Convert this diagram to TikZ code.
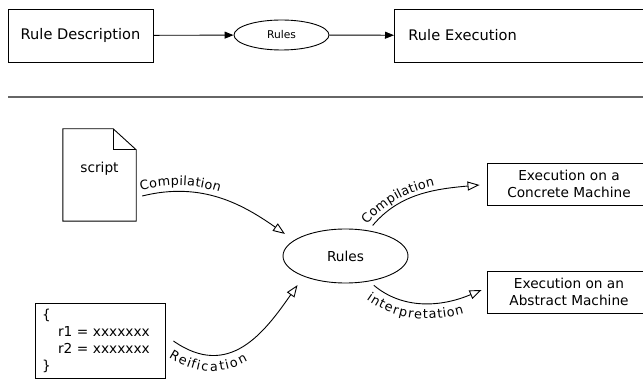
\documentclass[tikz,border=0pt]{standalone}
\usepackage{fontspec}
\setmainfont{DejaVu Sans}
\usetikzlibrary{shapes.geometric, arrows.meta, decorations.text}
\newcommand\lblfont{\fontsize{13.7}{17}\selectfont}
\newcommand\curvefont{\fontsize{12.8}{15}\selectfont}
\begin{document}
\begin{tikzpicture}[x=1pt,y=-1pt,
  box/.style={draw, line width=0.9pt, inner sep=0pt},
  solidarr/.style={draw, line width=0.9pt, -{Triangle[length=9pt,width=7pt]}},
  openarr/.style={draw, line width=0.9pt, -{Triangle[open,length=12pt,width=9pt,line width=0.9pt]}},
  lbl/.style={decorate, decoration={text along path, text align={left, left indent=#1}}},
]
\useasboundingbox (0,0) rectangle (643,379);

% top row
\node[box, minimum width=145pt, minimum height=53pt, font=\fontsize{14.6}{17}\selectfont] (desc) at (80.5,35.5) {Rule Description};
\node[box, ellipse, minimum width=95pt, minimum height=30pt, font=\fontsize{10.7}{13}\selectfont] (rules1) at (281.5,35) {Rules};
\node[box, anchor=west, minimum width=262pt, minimum height=53pt, text width=234pt, inner xsep=14pt, align=left, font=\fontsize{14.6}{17}\selectfont] (exec) at (394,35.5) {Rule Execution};
\draw[solidarr] (desc) -- (rules1);
\draw[solidarr] (rules1) -- (exec);

% separator
\draw[line width=1.6pt, draw=black!60] (8,97) -- (650,97);

% document shape
\node[minimum width=73pt, minimum height=92pt, inner sep=0pt] (doc) at (99.5,175) {};
\draw[line width=0.9pt] (doc.north west) -- ([xshift=-23pt]doc.north east) -- ([yshift=-21pt]doc.north east) -- (doc.south east) -- (doc.south west) -- cycle;
\draw[line width=0.9pt] ([xshift=-23pt]doc.north east) -- ([xshift=-23pt,yshift=-21pt]doc.north east) -- ([yshift=-21pt]doc.north east);
\node[font=\lblfont] (scripttxt) at ([yshift=6pt]doc.center) {script};

% code box
\node[box, minimum width=130pt, minimum height=75pt, text width=116pt, inner xsep=7pt, align=left, font=\lblfont] (code) at (100,340.5)
  {\{\\\hspace*{16pt}r1 = xxxxxxx\\\hspace*{16pt}r2 = xxxxxxx\\\}};

% central rules
\node[box, ellipse, minimum width=125pt, minimum height=54pt, font=\lblfont] (rules) at (345.5,256) {Rules};

% execution boxes
\node[box, minimum width=164pt, minimum height=42pt, align=center, font=\lblfont] (concrete) at (569,184) {Execution on a\\Concrete Machine};
\node[box, minimum width=164pt, minimum height=42pt, align=center, font=\lblfont] (abstract) at (569,292) {Execution on an\\Abstract Machine};

% connectors
\coordinate (s1) at ([xshift=6pt,yshift=-21pt]doc.east);
\draw[openarr, shorten >=11pt] (s1) to[out=14,in=145] (rules.163);
\path[lbl=0pt, decoration={text={|\curvefont|Compilation}, raise=6pt}] (s1) to[out=14,in=145] (rules.163);

\coordinate (s2) at ([xshift=8pt,yshift=-0.5pt]code.east);
\draw[openarr, shorten >=10.5pt] (s2) to[out=-35,in=235,looseness=1.2] (rules.206);
\path[lbl=4pt, decoration={text={|\curvefont|Reification}, raise=-16pt}] (s2) to[out=-35,in=235,looseness=1.2] (rules.206);

\coordinate (e3) at ([xshift=-7pt,yshift=-1pt]concrete.west);
\draw[openarr, shorten <=6.5pt] (rules.48) to[out=50,in=185] (e3);
\path[lbl=3pt, decoration={text={|\curvefont|Compilation}, raise=5pt}] (rules.48) to[out=50,in=185] (e3);

\coordinate (e4) at ([xshift=-5pt,yshift=2pt]abstract.west);
\draw[openarr, shorten <=6pt] (rules.-47) to[out=-40,in=203] (e4);
\path[lbl=8pt, decoration={text={|\curvefont|interpretation}, raise=-16pt}] (rules.-47) to[out=-40,in=203] (e4);
\end{tikzpicture}
\end{document}
